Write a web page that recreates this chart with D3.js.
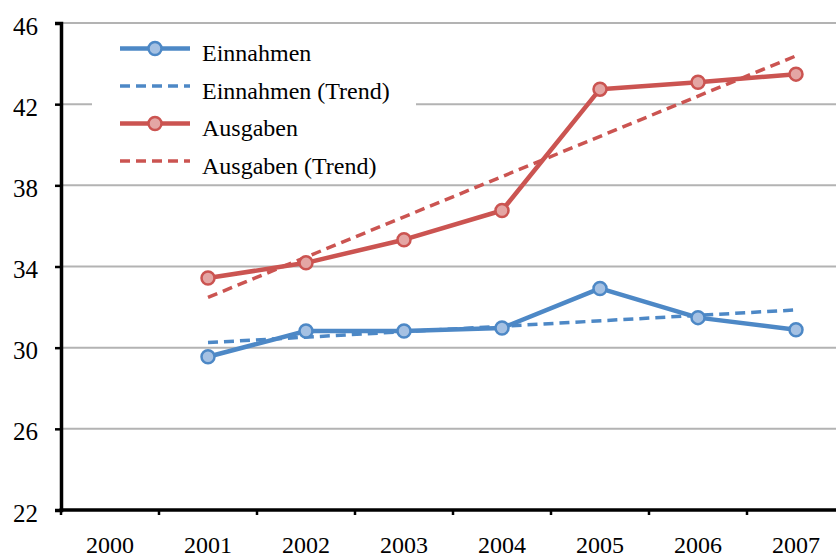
<!DOCTYPE html>
<html>
  <head>
    <script src="https://d3js.org/d3.v7.min.js"></script>
    <style>
      body { margin: 0; background: #fff; }
      svg text { font-family: "Liberation Serif", "Times New Roman", "DejaVu Serif", serif; fill: #000; }
      .grid line { stroke: #b3b3b3; stroke-width: 2px; }
    </style>
  </head>
  <body>
    <script>

// data
var years = ["2000", "2001", "2002", "2003", "2004", "2005", "2006", "2007"];
var dataYears = ["2001", "2002", "2003", "2004", "2005", "2006", "2007"];
var einnahmen = [29.55, 30.82, 30.82, 30.97, 32.92, 31.48, 30.88];
var ausgaben = [33.43, 34.18, 35.32, 36.76, 42.74, 43.08, 43.48];
// trend line end points (2001, 2007)
var trendYears = ["2001", "2007"];
var einnahmenTrend = [30.25, 31.86];
var ausgabenTrend = [32.48, 44.38];
var yTicks = [22, 26, 30, 34, 38, 42, 46];

var serif = '"Liberation Serif", "Times New Roman", serif';

var width = 836,
    height = 559,
    plotLeft = 61, plotTop = 23, plotBottom = 510, plotRight = 845;

var blue = "#4d88c6", blueLight = "#a5c1e3",
    red = "#cb5451", redLight = "#e4a6a4";

var svg = d3.select("body").append("svg")
    .attr("width", width)
    .attr("height", height)
    .attr("font-family", serif);

var x = d3.scaleBand().domain(years).range([plotLeft, plotRight]);
var y = d3.scaleLinear().domain([22, 46]).range([plotBottom, plotTop]);
var cx = function(d) { return x(d) + x.bandwidth() / 2; };

// gridlines
svg.append("g").attr("class", "grid")
  .selectAll("line")
  .data(yTicks.slice(1))
  .enter().append("line")
    .attr("x1", plotLeft).attr("x2", width)
    .attr("y1", function(d) { return y(d); })
    .attr("y2", function(d) { return y(d); });

// legend box covers the grid
svg.append("rect")
    .attr("x", 92).attr("y", 30)
    .attr("width", 324).attr("height", 148)
    .attr("fill", "#fff");

// axes
var yAxis = svg.append("g")
    .attr("transform", "translate(" + plotLeft + ",0)")
    .call(d3.axisLeft(y).tickValues(yTicks).tickSize(6).tickPadding(17))
    .attr("font-family", serif);
yAxis.select(".domain").attr("stroke", "#000").attr("stroke-width", 3.5);
yAxis.selectAll(".tick line").attr("stroke", "#000").attr("stroke-width", 2.5);
yAxis.selectAll(".tick text")
    .attr("font-size", "25px").attr("dy", "0.36em")
    .attr("y", 2);

var xAxis = svg.append("g")
    .attr("transform", "translate(0," + plotBottom + ")")
    .call(d3.axisBottom(x).tickSize(0).tickPadding(0))
    .attr("font-family", serif);
xAxis.select(".domain").remove();
xAxis.selectAll(".tick text")
    .attr("font-size", "24px").attr("y", 43).attr("dy", 0);

svg.append("line")
    .attr("x1", plotLeft - 1.5).attr("x2", width)
    .attr("y1", plotBottom).attr("y2", plotBottom)
    .attr("stroke", "#000").attr("stroke-width", 3.5);

svg.append("g").selectAll("line")
  .data(years)
  .enter().append("line")
    .attr("x1", function(d) { return x(d); })
    .attr("x2", function(d) { return x(d); })
    .attr("y1", plotBottom).attr("y2", plotBottom + 5)
    .attr("stroke", "#000").attr("stroke-width", 2.5);

var line = d3.line()
    .x(function(d) { return cx(d[0]); })
    .y(function(d) { return y(d[1]); });

function drawTrend(vals, color) {
  svg.append("path")
      .datum(d3.zip(trendYears, vals))
      .attr("d", line)
      .attr("fill", "none")
      .attr("stroke", color)
      .attr("stroke-width", 3.5)
      .attr("stroke-dasharray", "10,6");
}

function drawSeries(vals, color, fill) {
  var pts = d3.zip(dataYears, vals);
  svg.append("path")
      .datum(pts)
      .attr("d", line)
      .attr("fill", "none")
      .attr("stroke", color)
      .attr("stroke-width", 4.5)
      .attr("stroke-linejoin", "round");
  svg.append("g").selectAll("circle")
    .data(pts)
    .enter().append("circle")
      .attr("cx", function(d) { return cx(d[0]); })
      .attr("cy", function(d) { return y(d[1]); })
      .attr("r", 6.5)
      .attr("fill", fill)
      .attr("stroke", color)
      .attr("stroke-width", 2.5);
}

drawTrend(einnahmenTrend, blue);
drawTrend(ausgabenTrend, red);
drawSeries(einnahmen, blue, blueLight);
drawSeries(ausgaben, red, redLight);

// legend
var legendItems = [
  { name: "Einnahmen", color: blue, fill: blueLight, dash: false },
  { name: "Einnahmen (Trend)", color: blue, dash: true },
  { name: "Ausgaben", color: red, fill: redLight, dash: false },
  { name: "Ausgaben (Trend)", color: red, dash: true }
];

var lg = svg.append("g").selectAll("g")
  .data(legendItems)
  .enter().append("g")
    .attr("transform", function(d, i) { return "translate(0," + (48.5 + i * 37.5) + ")"; });

lg.append("line")
    .attr("x1", 120).attr("x2", 190)
    .attr("stroke", function(d) { return d.color; })
    .attr("stroke-width", function(d) { return d.dash ? 3.5 : 4.5; })
    .attr("stroke-dasharray", function(d) { return d.dash ? "10,6" : null; });

lg.filter(function(d) { return !d.dash; })
  .append("circle")
    .attr("cx", 155).attr("r", 6.5)
    .attr("fill", function(d) { return d.fill; })
    .attr("stroke", function(d) { return d.color; })
    .attr("stroke-width", 2.5);

lg.append("text")
    .attr("x", 202).attr("y", 12.5)
    .attr("font-size", "24px")
    .text(function(d) { return d.name; });

</script>
  </body>
</html>
